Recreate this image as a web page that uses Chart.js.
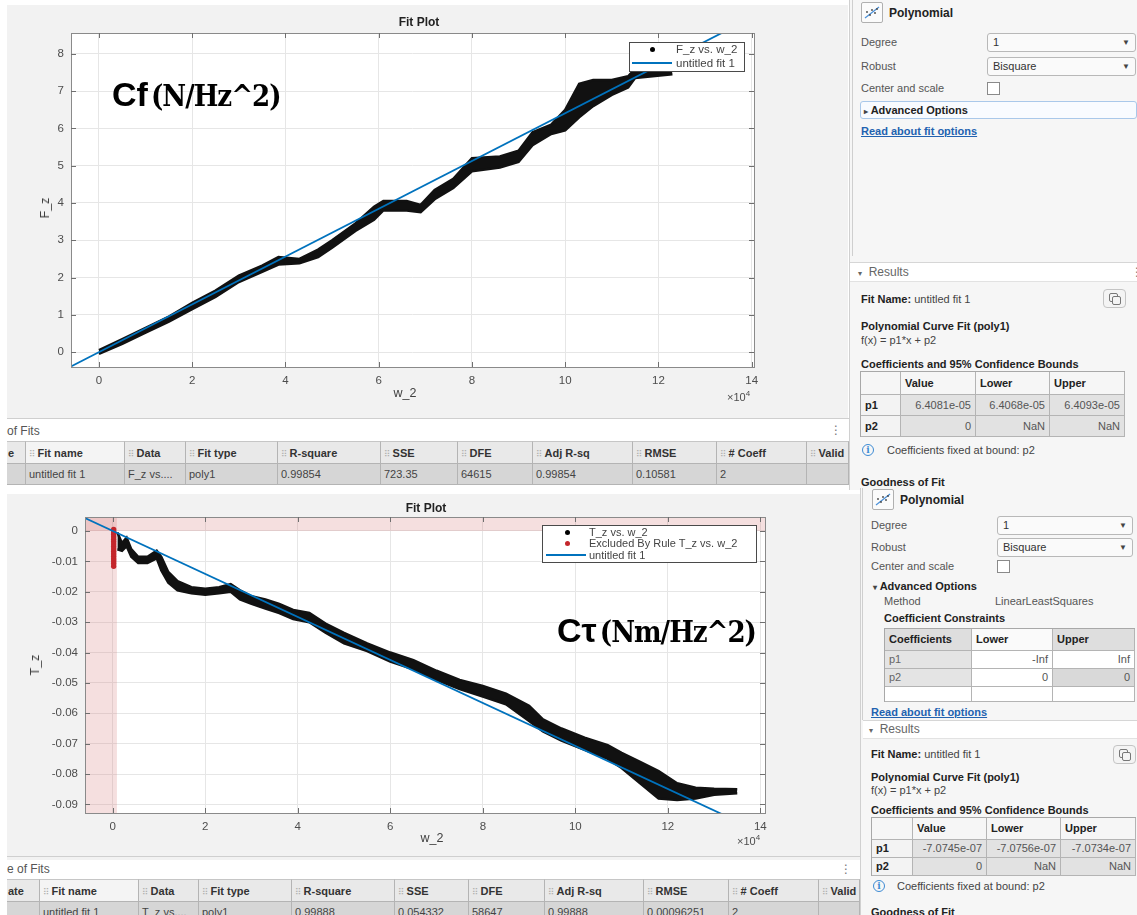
<!DOCTYPE html>
<html><head><meta charset="utf-8">
<script src="https://cdn.jsdelivr.net/npm/chart.js@4.4.1/dist/chart.umd.min.js"></script>
<style>
html,body{margin:0;padding:0}
body{width:1137px;height:915px;overflow:hidden;background:#fff;position:relative;font-family:"Liberation Sans",Arial,sans-serif;color:#333;font-size:11px}
.a{position:absolute;box-sizing:border-box}
.t{position:absolute;white-space:nowrap;line-height:16px;height:16px}
.b{font-weight:bold}
.g{color:#555}
.dd{position:absolute;box-sizing:border-box;border:1px solid #b8b8b8;border-radius:3px;background:#fafafa;padding-left:5px;color:#333;white-space:nowrap}
.dd span{position:absolute;right:5px;top:0;font-size:8px;color:#444}
.chk{position:absolute;width:13px;height:13px;border:1px solid #8a8a8a;background:#fff;box-sizing:border-box}
.link{color:#2262b0;font-weight:bold;text-decoration:underline}
.cell{position:absolute;box-sizing:border-box;border-right:1px solid #b4b4b4;border-bottom:1px solid #b4b4b4;padding:0 4px;overflow:hidden;white-space:nowrap}
.grip{font-family:"DejaVu Sans";color:#b0b0b0;font-size:9px;margin-right:2px;font-weight:normal}
.big1{font-family:"Liberation Sans Narrow","Liberation Sans";font-weight:bold;color:#000}
.big2{font-family:"DejaVu Serif Condensed","DejaVu Serif";font-weight:bold;color:#000}
</style>
</head><body>
<script>
// ---------------- DATA ----------------
// Top plot: F_z vs w_2 (w_2 in units of 1e4), band envelope of the scatter cloud
const fzX     = [0.00, 0.50, 1.00, 1.50, 2.00, 2.50, 3.00, 3.50, 3.85, 4.30, 4.70, 5.00, 5.50, 5.90, 6.10, 6.60, 6.90, 7.20, 7.60, 8.00, 8.60, 9.00, 9.30, 9.70, 10.00, 10.30, 10.60, 11.00, 11.35, 11.50, 12.30];
const fzUpper = [0.05, 0.35, 0.65, 0.95, 1.32, 1.65, 2.05, 2.32, 2.55, 2.50, 2.75, 3.00, 3.45, 3.90, 4.05, 4.05, 3.95, 4.35, 4.65, 5.20, 5.25, 5.40, 5.90, 6.10, 6.50, 7.20, 7.30, 7.30, 7.40, 7.60, 7.65];
const fzLower = [-0.05, 0.22, 0.52, 0.82, 1.15, 1.48, 1.88, 2.15, 2.35, 2.38, 2.55, 2.80, 3.25, 3.55, 3.80, 3.80, 3.75, 4.10, 4.40, 4.85, 4.95, 5.10, 5.55, 5.85, 5.95, 6.30, 6.60, 6.90, 7.10, 7.35, 7.45];
// Fit line endpoints (p1 = 6.4081e-05)
const fitTopX = [-0.6, 14.1];
const fitTopY = [-0.3845, 9.0354];
const topXTicks = [0, 2, 4, 6, 8, 10, 12, 14];
const topYTicks = [0, 1, 2, 3, 4, 5, 6, 7, 8];

// Bottom plot: T_z vs w_2
const tzX     = [0.10, 0.20, 0.30, 0.40, 0.55, 0.75, 0.95, 1.05, 1.20, 1.40, 1.70, 2.00, 2.30, 2.55, 2.75, 3.00, 3.30, 3.60, 3.90, 4.25, 4.60, 5.00, 5.50, 6.00, 6.50, 7.00, 7.50, 8.00, 8.50, 9.00, 9.30, 9.70, 10.20, 10.70, 11.00, 11.40, 11.80, 12.20, 12.60, 13.00, 13.50];
const tzUpper = [-0.0005, -0.0040, -0.0022, -0.0060, -0.0085, -0.0085, -0.0065, -0.0085, -0.0135, -0.0165, -0.0185, -0.0190, -0.0185, -0.0175, -0.0195, -0.0215, -0.0225, -0.0240, -0.0260, -0.0270, -0.0305, -0.0335, -0.0370, -0.0400, -0.0425, -0.0460, -0.0490, -0.0510, -0.0535, -0.0575, -0.0620, -0.0650, -0.0680, -0.0705, -0.0730, -0.0760, -0.0790, -0.0830, -0.0845, -0.0848, -0.0850];
const tzLower = [-0.0060, -0.0065, -0.0050, -0.0085, -0.0105, -0.0105, -0.0090, -0.0130, -0.0170, -0.0195, -0.0205, -0.0210, -0.0205, -0.0200, -0.0225, -0.0240, -0.0255, -0.0270, -0.0290, -0.0300, -0.0335, -0.0370, -0.0395, -0.0430, -0.0455, -0.0490, -0.0520, -0.0545, -0.0570, -0.0625, -0.0660, -0.0690, -0.0720, -0.0750, -0.0780, -0.0830, -0.0880, -0.0885, -0.0880, -0.0868, -0.0863];
// Excluded points (red)
const exX = [0.02, 0.02, 0.02, 0.02, 0.02, 0.02, 0.02, 0.02, 0.02, 0.02, 0.02, 0.02, 0.02, 0.02, 0.02, 0.02];
const exY = [0.0005, -0.0003, -0.0011, -0.0019, -0.0027, -0.0035, -0.0043, -0.0051, -0.0059, -0.0067, -0.0075, -0.0083, -0.0091, -0.0099, -0.0107, -0.0116];
// Fit line endpoints (p1 = -7.0745e-07)
const fitBotX = [-0.6, 14.1];
const fitBotY = [0.00424, -0.09975];
const botXTicks = [0, 2, 4, 6, 8, 10, 12, 14];
const botYTicks = [-0.09, -0.08, -0.07, -0.06, -0.05, -0.04, -0.03, -0.02, -0.01, 0];
const botYLabels = ['-0.09', '-0.08', '-0.07', '-0.06', '-0.05', '-0.04', '-0.03', '-0.02', '-0.01', '0'];
// Exclusion region bounds
const exclXMax = 0.09;
const exclYMin = 0;

// ---------------- helpers ----------------
function add(html, css, cls) {
  const d = document.createElement('div');
  d.className = cls || 'a';
  d.style.cssText = css;
  d.innerHTML = html;
  document.body.appendChild(d);
  return d;
}
function txt(x, cy, html, extra, cls) {
  return add(html, `left:${x}px;top:${cy - 8}px;` + (extra || ''), 't ' + (cls || ''));
}
function table(x, y, widths, heights, rows, styleFn) {
  let yy = y;
  heights.forEach((h, r) => {
    let xx = x;
    widths.forEach((w, c) => {
      const v = (rows[r] && rows[r][c] != null) ? rows[r][c] : '';
      add(v, `left:${xx}px;top:${yy}px;width:${w}px;height:${h}px;line-height:${h - 1}px;` + (styleFn ? styleFn(r, c) : ''), 'cell');
      xx += w;
    });
    yy += h;
  });
  const W = widths.reduce((a, b) => a + b, 0), H = heights.reduce((a, b) => a + b, 0);
  add('', `left:${x - 1}px;top:${y - 1}px;width:${W + 1}px;height:${H + 1}px;border-left:1px solid #a8a8a8;border-top:1px solid #a8a8a8;pointer-events:none`);
}
function polyIcon(x, y) {
  add(`<svg width="20" height="19"><path d="M3 15 L17 4" stroke="#4a90d9" stroke-width="1.2" fill="none"/>
  <circle cx="5" cy="9" r="0.9" fill="#444"/><circle cx="8" cy="12" r="0.9" fill="#444"/><circle cx="10" cy="7" r="0.9" fill="#444"/><circle cx="13" cy="10" r="0.9" fill="#444"/><circle cx="15" cy="6" r="0.9" fill="#444"/></svg>`,
    `left:${x}px;top:${y}px;width:22px;height:21px;border:1px solid #b0b0b0;border-radius:2px;background:#fbfbfb;padding:0`);
}
function copyIcon(x, y) {
  add(`<div class="a" style="left:5px;top:3px;width:9px;height:9px;border:1.5px solid #777;border-radius:2px"></div><div class="a" style="left:8px;top:6px;width:9px;height:9px;border:1.5px solid #777;border-radius:2px;background:#f4f4f4"></div>`,
    `left:${x}px;top:${y}px;width:23px;height:19px;border:1px solid #c4c4c4;border-radius:4px;background:#f4f4f4`);
}
function infoIcon(x, cy) {
  add('i', `left:${x}px;top:${cy - 6}px;width:12px;height:12px;border:1.3px solid #3d8bd4;border-radius:50%;color:#3d8bd4;font-size:9px;line-height:10px;text-align:center;font-family:'DejaVu Serif';font-weight:bold`);
}

// ---------------- static UI ----------------
// figure backgrounds
add('', 'left:7px;top:5px;width:841px;height:413px;background:#f2f2f2');
add('', 'left:7px;top:494px;width:853px;height:366px;background:#f2f2f2');
// right panels
add('', 'left:849px;top:0;width:288px;height:490px;background:#f6f6f6;border-left:1px solid #d0d0d0');
add('', 'left:852px;top:0;width:1px;height:256px;background:#cfcfcf');
add('', 'left:860px;top:488px;width:277px;height:427px;background:#f6f6f6;border-left:1px solid #d0d0d0');
add('', 'left:862px;top:488px;width:1px;height:232px;background:#cfcfcf');

// ---- top right panel ----
polyIcon(861, 2);
txt(889, 13, 'Polynomial', 'font-size:12px;color:#222', 'b');
txt(861, 42, 'Degree', '', 'g');
add('1<span>▼</span>', 'left:987px;top:33px;width:149px;height:19px;line-height:17px', 'dd');
txt(861, 66, 'Robust', '', 'g');
add('Bisquare<span>▼</span>', 'left:987px;top:57px;width:149px;height:19px;line-height:17px', 'dd');
txt(861, 88, 'Center and scale', '', 'g');
add('', 'left:987px;top:82px', 'chk');
add('', 'left:860px;top:101px;width:277px;height:18px;border:1px solid #a9c8ea;border-radius:3px;background:#f8fbff');
txt(864, 110, '<span style="font-size:8px;color:#444">▸</span> Advanced Options', 'color:#222', 'b');
txt(861, 131, 'Read about fit options', '', 'link');

add('', 'left:850px;top:262px;width:287px;height:20px;background:#fff;border-top:1px solid #d6d6d6;border-bottom:1px solid #e2e2e2');
txt(858, 272, '<span style="font-size:8px">▾</span>&nbsp; Results', 'font-size:12px;color:#666');
txt(1131, 272, '⋮', 'font-size:12px;color:#777;font-family:DejaVu Sans');
txt(861, 299, '<b style="color:#222">Fit Name:</b> <span style="color:#444">untitled fit 1</span>');
copyIcon(1103, 289);
txt(861, 326, 'Polynomial Curve Fit (poly1)', 'color:#222', 'b');
txt(861, 340, 'f(x) = p1*x + p2', 'color:#444');
txt(861, 364, 'Coefficients and 95% Confidence Bounds', 'color:#222', 'b');
table(861, 372, [40, 75, 74, 75], [23, 21, 21],
  [['', 'Value', 'Lower', 'Upper'], ['p1', '6.4081e-05', '6.4068e-05', '6.4093e-05'], ['p2', '0', 'NaN', 'NaN']],
  (r, c) => r === 0 ? 'background:#f6f6f6;font-weight:bold;color:#222' : (c === 0 ? 'background:#f3f3f3;font-weight:bold;color:#222' : 'background:#e2e2e2;text-align:right;color:#555'));
infoIcon(862, 450);
txt(887, 450, 'Coefficients fixed at bound: p2', 'color:#444');
txt(861, 482, 'Goodness of Fit', 'color:#222', 'b');

// ---- bottom right panel ----
polyIcon(872, 489);
txt(900, 500, 'Polynomial', 'font-size:12px;color:#222', 'b');
txt(871, 525, 'Degree', '', 'g');
add('1<span>▼</span>', 'left:997px;top:516px;width:136px;height:19px;line-height:17px', 'dd');
txt(871, 547, 'Robust', '', 'g');
add('Bisquare<span>▼</span>', 'left:997px;top:538px;width:136px;height:19px;line-height:17px', 'dd');
txt(871, 566, 'Center and scale', '', 'g');
add('', 'left:997px;top:560px', 'chk');
txt(873, 586, '<span style="font-size:8px;color:#444">▾</span> Advanced Options', 'color:#222', 'b');
txt(884, 601, 'Method', '', 'g');
txt(995, 601, 'LinearLeastSquares', '', 'g');
txt(884, 618, 'Coefficient Constraints', 'color:#222', 'b');
table(885, 629, [87, 81, 82], [22, 18, 18, 15],
  [['Coefficients', 'Lower', 'Upper'], ['p1', '-Inf', 'Inf'], ['p2', '0', '0'], ['', '', '']],
  (r, c) => {
    if (r === 0) return 'font-weight:bold;color:#222;background:' + (c === 1 ? '#fafafa' : '#dedede');
    if (r === 3) return 'background:#fff';
    if (c === 0) return 'background:#e4e4e4;color:#666';
    if (r === 2 && c === 2) return 'background:#d9d9d9;text-align:right;color:#555';
    return 'background:#fff;text-align:right;color:#555';
  });
txt(871, 712, 'Read about fit options', '', 'link');
add('', 'left:863px;top:720px;width:274px;height:19px;background:#fff;border-top:1px solid #d6d6d6;border-bottom:1px solid #e2e2e2');
txt(869, 729, '<span style="font-size:8px">▾</span>&nbsp; Results', 'font-size:12px;color:#666');
txt(871, 754, '<b style="color:#222">Fit Name:</b> <span style="color:#444">untitled fit 1</span>');
copyIcon(1113, 745);
txt(871, 777, 'Polynomial Curve Fit (poly1)', 'color:#222', 'b');
txt(871, 790, 'f(x) = p1*x + p2', 'color:#444');
txt(871, 810, 'Coefficients and 95% Confidence Bounds', 'color:#222', 'b');
table(872, 818, [41, 74, 74, 75], [22, 18, 18],
  [['', 'Value', 'Lower', 'Upper'], ['p1', '-7.0745e-07', '-7.0756e-07', '-7.0734e-07'], ['p2', '0', 'NaN', 'NaN']],
  (r, c) => r === 0 ? 'background:#f6f6f6;font-weight:bold;color:#222' : (c === 0 ? 'background:#f3f3f3;font-weight:bold;color:#222' : 'background:#e2e2e2;text-align:right;color:#555'));
infoIcon(873, 886);
txt(897, 886, 'Coefficients fixed at bound: p2', 'color:#444');
txt(871, 912, 'Goodness of Fit', 'color:#222', 'b');

// ---- tables of fits ----
function fitsTable(y0, cols, heads, vals, width) {
  add('', `left:7px;top:${y0}px;width:${width}px;height:1px;background:#cfcfcf`);
  const hy = y0 + 23;
  for (let i = 0; i < heads.length; i++) {
    const w = cols[i + 1] - cols[i];
    const hh = i === 0 ? heads[i] : '<span class="grip">⠿</span>' + heads[i];
    add(hh, `left:${cols[i]}px;top:${hy}px;width:${w}px;height:23px;line-height:22px;font-weight:bold;color:#333;background:${i === 1 ? '#f4f4f4' : '#e9e9e9'};border-top:1px solid #c6c6c6;padding-left:${i === 0 ? 1 : 3}px`, 'cell');
    add(vals[i], `left:${cols[i]}px;top:${hy + 23}px;width:${w}px;height:21px;line-height:20px;color:#444;background:#d6d6d6;padding-left:3px`, 'cell');
  }
}
txt(7, 431, 'of Fits', 'font-size:12px;color:#555');
txt(830, 430, '⋮', 'font-size:12px;color:#777;font-family:DejaVu Sans');
fitsTable(418, [7, 26, 125, 186, 278, 381, 458, 533, 633, 717, 807, 849],
  ['e', 'Fit name', 'Data', 'Fit type', 'R-square', 'SSE', 'DFE', 'Adj R-sq', 'RMSE', '# Coeff', 'Valid'],
  ['', 'untitled fit 1', 'F_z vs....', 'poly1', '0.99854', '723.35', '64615', '0.99854', '0.10581', '2', ''], 842);
txt(7, 869, 'e of Fits', 'font-size:12px;color:#555');
txt(840, 869, '⋮', 'font-size:12px;color:#777;font-family:DejaVu Sans');
fitsTable(856, [7, 40, 139, 199, 292, 395, 469, 545, 644, 729, 819, 860],
  ['ate', 'Fit name', 'Data', 'Fit type', 'R-square', 'SSE', 'DFE', 'Adj R-sq', 'RMSE', '# Coeff', 'Valid'],
  ['', 'untitled fit 1', 'T_z vs....', 'poly1', '0.99888', '0.054332', '58647', '0.99888', '0.00096251', '2', ''], 853);
</script>

<canvas id="c1" width="841" height="413" style="position:absolute;left:7px;top:5px"></canvas>
<canvas id="c2" width="853" height="366" style="position:absolute;left:7px;top:494px"></canvas>

<script>
// plugin: white plot area, exclusion shading, box + inside ticks
const boxPlugin = {
  id: 'box',
  beforeDraw(chart) {
    const { ctx, chartArea: a } = chart;
    ctx.save(); ctx.fillStyle = '#ffffff'; ctx.fillRect(a.left, a.top, a.right - a.left, a.bottom - a.top); ctx.restore();
  },
  beforeDatasetsDraw(chart, args, opts) {
    if (!opts.exclude) return;
    const { ctx, chartArea: a, scales: { x, y } } = chart;
    ctx.save();
    ctx.fillStyle = 'rgba(214,120,120,0.24)';
    const xr = x.getPixelForValue(opts.exclude.xMax);
    ctx.fillRect(a.left, a.top, xr - a.left, a.bottom - a.top);
    const yb = y.getPixelForValue(opts.exclude.yMin);
    ctx.fillRect(a.left, a.top, a.right - a.left, yb - a.top);
    ctx.restore();
  },
  afterDraw(chart) {
    const { ctx, chartArea: a, scales: { x, y } } = chart;
    ctx.save();
    ctx.strokeStyle = '#8a8a8a'; ctx.lineWidth = 1;
    ctx.strokeRect(Math.round(a.left) + 0.5, Math.round(a.top) + 0.5, Math.round(a.right - a.left), Math.round(a.bottom - a.top));
    ctx.strokeStyle = '#6f6f6f';
    ctx.beginPath();
    x.ticks.forEach(t => {
      const px = Math.round(x.getPixelForValue(t.value)) + 0.5;
      ctx.moveTo(px, a.bottom); ctx.lineTo(px, a.bottom - 5);
      ctx.moveTo(px, a.top); ctx.lineTo(px, a.top + 5);
    });
    y.ticks.forEach(t => {
      const py = Math.round(y.getPixelForValue(t.value)) + 0.5;
      ctx.moveTo(a.left, py); ctx.lineTo(a.left + 5, py);
      ctx.moveTo(a.right, py); ctx.lineTo(a.right - 5, py);
    });
    ctx.stroke();
    ctx.restore();
  }
};

const tickFont = { family: 'Liberation Sans', size: 11.5 };
function pts(xs, ys) { return xs.map((x, i) => ({ x: x, y: ys[i] })); }

new Chart(document.getElementById('c1'), {
  type: 'line',
  data: {
    datasets: [
      { data: pts(fitTopX, fitTopY), borderColor: '#0072BD', borderWidth: 1.8, pointRadius: 0, fill: false },
      { data: pts(fzX, fzUpper), borderColor: '#111', borderWidth: 2.5, pointRadius: 0, fill: false },
      { data: pts(fzX, fzLower), borderColor: '#111', borderWidth: 2.5, pointRadius: 0, fill: '-1', backgroundColor: '#111' }
    ]
  },
  options: {
    responsive: false, animation: false, events: [],
    layout: { padding: { left: 14, right: 94, top: 28, bottom: 21 } },
    plugins: { legend: { display: false }, tooltip: { enabled: false }, box: {} },
    scales: {
      x: {
        type: 'linear', min: -0.6, max: 14.05,
        afterBuildTicks: s => { s.ticks = topXTicks.map(v => ({ value: v })); },
        afterFit: s => { s.height = 30; },
        grid: { color: '#e6e6e6', drawTicks: false }, border: { display: false },
        ticks: { padding: 7, color: '#4d4d4d', font: tickFont, maxRotation: 0, callback: v => String(v) }
      },
      y: {
        type: 'linear', min: -0.4, max: 8.56,
        afterBuildTicks: s => { s.ticks = topYTicks.map(v => ({ value: v })); },
        afterFit: s => { s.width = 50; },
        grid: { color: '#e6e6e6', drawTicks: false }, border: { display: false },
        ticks: { padding: 7, color: '#4d4d4d', font: tickFont, callback: v => String(v) }
      }
    }
  },
  plugins: [boxPlugin]
});

new Chart(document.getElementById('c2'), {
  type: 'line',
  data: {
    datasets: [
      { data: pts(fitBotX, fitBotY), borderColor: '#0072BD', borderWidth: 1.8, pointRadius: 0, fill: false },
      { data: pts(exX, exY), showLine: false, pointRadius: 2.7, pointBackgroundColor: '#c4262b', pointBorderWidth: 0, borderColor: '#c4262b' },
      { data: pts(tzX, tzUpper), borderColor: '#111', borderWidth: 2.5, pointRadius: 0, fill: false },
      { data: pts(tzX, tzLower), borderColor: '#111', borderWidth: 2.5, pointRadius: 0, fill: '-1', backgroundColor: '#111' }
    ]
  },
  options: {
    responsive: false, animation: false, events: [],
    layout: { padding: { left: 14, right: 95, top: 23, bottom: 17 } },
    plugins: { legend: { display: false }, tooltip: { enabled: false }, box: { exclude: { xMax: exclXMax, yMin: exclYMin } } },
    scales: {
      x: {
        type: 'linear', min: -0.6, max: 14.1,
        afterBuildTicks: s => { s.ticks = botXTicks.map(v => ({ value: v })); },
        afterFit: s => { s.height = 30; },
        grid: { color: '#e6e6e6', drawTicks: false }, border: { display: false },
        ticks: { padding: 7, color: '#4d4d4d', font: tickFont, maxRotation: 0, callback: v => String(v) }
      },
      y: {
        type: 'linear', min: -0.0928, max: 0.0046,
        afterBuildTicks: s => { s.ticks = botYTicks.map(v => ({ value: v })); },
        afterFit: s => { s.width = 64; },
        grid: { color: '#e6e6e6', drawTicks: false }, border: { display: false },
        ticks: { padding: 7, color: '#4d4d4d', font: tickFont, autoSkip: false, callback: (v, i) => botYLabels[i] }
      }
    }
  },
  plugins: [boxPlugin]
});

// ---- chart overlay texts ----
// top
txt(419, 22, 'Fit Plot', 'transform:translateX(-50%);font-size:12px;color:#222', 'b');
txt(405, 393, 'w_2', 'transform:translateX(-50%);font-size:12.5px;color:#404040');
txt(45, 208, 'F_z', 'transform:translate(-50%,0) rotate(-90deg);font-size:12.5px;color:#404040');
txt(727, 394, '×10<sup style="font-size:8px">4</sup>', 'font-size:11px;color:#4d4d4d');
txt(112, 94, '<span class="big1" style="font-size:34px">Cf</span> <span class="big2" style="font-size:29px;letter-spacing:-1px">(N/Hz^2)</span>', 'height:40px;line-height:40px;top:74px');
// top legend
add('', 'left:629px;top:42px;width:116px;height:30px;background:#fff;border:1px solid #4a4a4a');
add('', 'left:650px;top:47px;width:5px;height:5px;border-radius:50%;background:#000');
txt(676, 49, 'F_z vs. w_2', 'font-size:11.5px;color:#444');
add('', 'left:632px;top:62px;width:40px;height:2px;background:#0072BD');
txt(676, 63, 'untitled fit 1', 'font-size:11.5px;color:#444');

// bottom
txt(426, 508, 'Fit Plot', 'transform:translateX(-50%);font-size:12px;color:#222', 'b');
txt(432, 838, 'w_2', 'transform:translateX(-50%);font-size:12.5px;color:#404040');
txt(35, 665, 'T_z', 'transform:translate(-50%,0) rotate(-90deg);font-size:12.5px;color:#404040');
txt(737, 838, '×10<sup style="font-size:8px">4</sup>', 'font-size:11px;color:#4d4d4d');
txt(557, 630, '<span class="big1" style="font-size:34px">Cτ</span> <span class="big2" style="font-size:29px;letter-spacing:-1px">(Nm/Hz^2)</span>', 'height:40px;line-height:40px;top:610px');
// bottom legend
add('', 'left:542px;top:525px;width:215px;height:38px;background:#fff;border:1px solid #4a4a4a');
add('', 'left:565px;top:530px;width:5px;height:5px;border-radius:50%;background:#000');
txt(589, 532, 'T_z vs. w_2', 'font-size:11px;color:#444');
add('', 'left:565px;top:541px;width:5px;height:5px;border-radius:50%;background:#c4262b');
txt(589, 543, 'Excluded By Rule T_z vs. w_2', 'font-size:11px;color:#444');
add('', 'left:546px;top:554px;width:40px;height:2px;background:#0072BD');
txt(589, 555, 'untitled fit 1', 'font-size:11px;color:#444');
</script>
</body></html>
